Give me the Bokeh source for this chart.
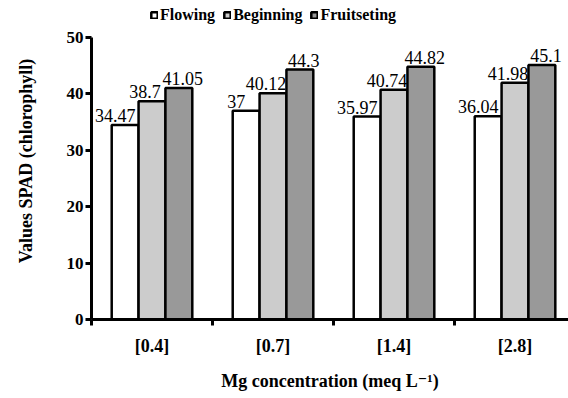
from bokeh.plotting import figure
from bokeh.models import (Range1d, FixedTicker, LinearAxis, Legend, LegendItem,
                          ColumnDataSource, LabelSet)
from bokeh.embed import file_html
from bokeh.resources import INLINE

categories = ["[0.4]", "[0.7]", "[1.4]", "[2.8]"]
flowing = [34.47, 37, 35.97, 36.04]
beginning = [38.7, 40.12, 40.74, 41.98]
fruitseting = [41.05, 44.3, 44.82, 45.1]
series_names = ["Flowing", "Beginning", "Fruitseting"]
y_ticks = [0, 10, 20, 30, 40, 50]

colors = ["#ffffff", "#cccccc", "#999999"]
bar_w = 0.222
offsets = [-bar_w, 0.0, bar_w]
label_dx = [-10, -7, 4]

FONT = "'Liberation Serif', 'DejaVu Serif', serif"

p = figure(width=568, height=398, output_backend="svg", toolbar_location=None,
           x_range=Range1d(0, 3.942), y_range=Range1d(0, 56.2),
           min_border_left=91, min_border_right=0, min_border_top=2,
           min_border_bottom=79, x_axis_type=None)
p.outline_line_color = None
p.xgrid.visible = False
p.ygrid.visible = False
p.background_fill_color = "white"
p.border_fill_color = "white"

centers = [i + 0.5 for i in range(len(categories))]
renderers = []
for k, vals in enumerate([flowing, beginning, fruitseting]):
    src = ColumnDataSource(dict(
        x=[c + offsets[k] for c in centers],
        top=vals,
        txt=[("%g" % v) if v != int(v) else str(int(v)) for v in vals],
    ))
    r = p.vbar(x="x", top="top", width=bar_w, bottom=0, source=src,
               fill_color=colors[k], line_color="black", line_width=2.5)
    renderers.append(r)
    lbl = LabelSet(x="x", y="top", text="txt", source=src,
                   text_align="center", text_baseline="bottom",
                   x_offset=label_dx[k], y_offset=3,
                   text_font=FONT, text_font_size="18px", text_color="black")
    p.add_layout(lbl)

# x axis
xaxis = LinearAxis(ticker=FixedTicker(ticks=centers,
                                      minor_ticks=list(range(len(categories) + 1))))
xaxis.major_label_overrides = {c: lab for c, lab in zip(centers, categories)}
xaxis.major_tick_line_color = None
xaxis.minor_tick_line_color = "black"
xaxis.minor_tick_line_width = 3
xaxis.minor_tick_out = 6
xaxis.minor_tick_in = 0
xaxis.axis_line_width = 3
xaxis.axis_line_color = "black"
xaxis.major_label_text_font = FONT
xaxis.major_label_text_font_size = "18px"
xaxis.major_label_text_font_style = "bold"
xaxis.major_label_text_color = "black"
xaxis.major_label_standoff = 10
xaxis.axis_label = "Mg concentration (meq L\u207b\u00b9)"
xaxis.axis_label_text_font = FONT
xaxis.axis_label_text_font_size = "18px"
xaxis.axis_label_text_font_style = "bold"
xaxis.axis_label_text_color = "black"
xaxis.axis_label_standoff = 12
p.add_layout(xaxis, "below")

# y axis
ya = p.yaxis[0]
ya.ticker = FixedTicker(ticks=y_ticks)
ya.bounds = (0, 50)
ya.axis_line_width = 3
ya.axis_line_color = "black"
ya.major_tick_line_width = 3
ya.major_tick_line_color = "black"
ya.major_tick_out = 6
ya.major_tick_in = 0
ya.minor_tick_line_color = None
ya.major_label_text_font = FONT
ya.major_label_text_font_size = "17px"
ya.major_label_text_font_style = "bold"
ya.major_label_text_color = "black"
ya.major_label_standoff = 2
ya.axis_label = "Values SPAD (chlorophyll)"
ya.axis_label_text_font = FONT
ya.axis_label_text_font_size = "18px"
ya.axis_label_text_font_style = "bold"
ya.axis_label_text_color = "black"
ya.axis_label_standoff = 28

legend = Legend(items=[LegendItem(label=n, renderers=[r]) for n, r in zip(series_names, renderers)],
                orientation="horizontal", location=(59, 295),
                glyph_width=8, glyph_height=8, label_standoff=2, spacing=8,
                padding=0, margin=0, border_line_color=None,
                background_fill_alpha=0,
                label_text_font=FONT, label_text_font_size="16px",
                label_text_font_style="bold", label_text_color="black")
p.add_layout(legend)

open("out.html", "w").write(file_html(p, INLINE))
